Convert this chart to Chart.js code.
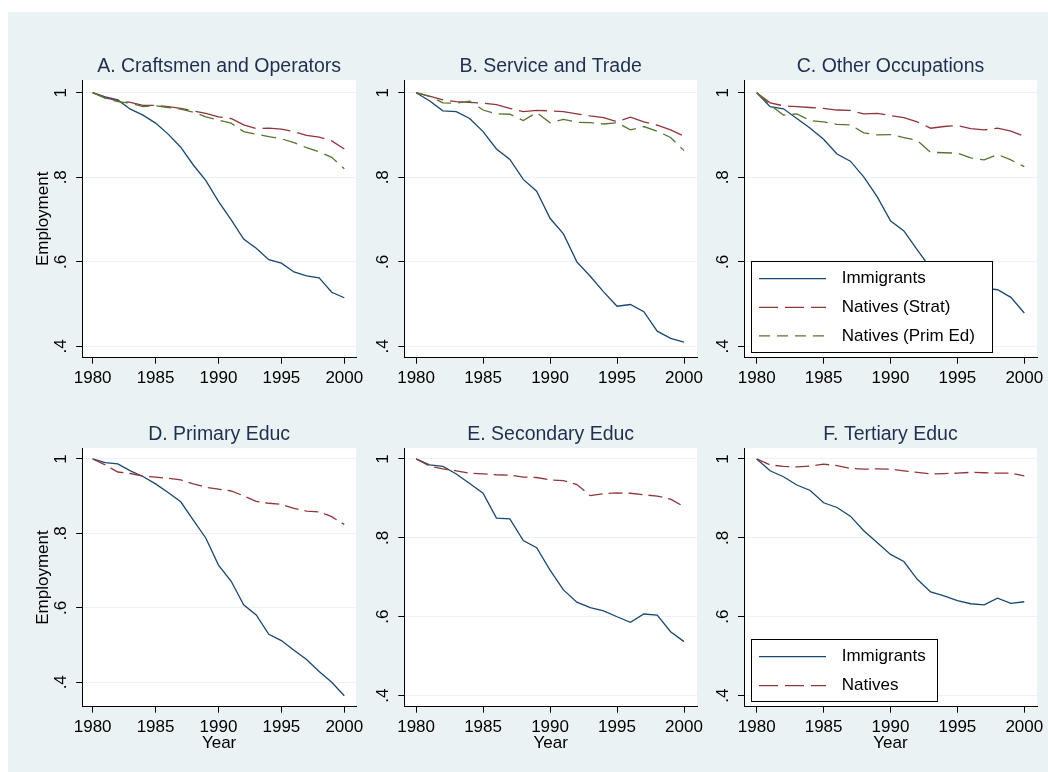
<!DOCTYPE html>
<html>
<head>
<meta charset="utf-8">
<script src="https://cdn.jsdelivr.net/npm/chart.js@4.4.1/dist/chart.umd.min.js"></script>
<style>
html,body{margin:0;padding:0;background:#ffffff;}
body{width:1048px;height:772px;position:relative;overflow:hidden;}
#bg{position:absolute;left:8px;top:12px;width:1040px;height:760px;background:#eaf2f3;}
canvas{position:absolute;}
</style>
</head>
<body>
<div id="bg"></div>
<canvas id="cA" width="362" height="378" style="left:8px;top:12px;width:362px;height:378px"></canvas>
<canvas id="cB" width="340" height="378" style="left:370px;top:12px;width:340px;height:378px"></canvas>
<canvas id="cC" width="338" height="378" style="left:710px;top:12px;width:338px;height:378px"></canvas>
<canvas id="cD" width="362" height="382" style="left:8px;top:390px;width:362px;height:382px"></canvas>
<canvas id="cE" width="340" height="382" style="left:370px;top:390px;width:340px;height:382px"></canvas>
<canvas id="cF" width="338" height="382" style="left:710px;top:390px;width:338px;height:382px"></canvas>
<script>
// ---------- data ----------
const years = [1980,1981,1982,1983,1984,1985,1986,1987,1988,1989,1990,1991,1992,1993,1994,1995,1996,1997,1998,1999,2000];
const xTickValues = [1980,1985,1990,1995,2000];
const yTickValues = [0.4,0.6,0.8,1];

const panelTitles = ['A. Craftsmen and Operators','B. Service and Trade','C. Other Occupations','D. Primary Educ','E. Secondary Educ','F. Tertiary Educ'];
const seriesNamesOcc = ['Immigrants','Natives (Strat)','Natives (Prim Ed)'];
const seriesNamesEdu = ['Immigrants','Natives'];
const yAxisTitle = 'Employment';
const xAxisTitle = 'Year';

// A. Craftsmen and Operators
const craftImmigrants = [1.000,0.990,0.983,0.961,0.947,0.928,0.902,0.871,0.829,0.792,0.743,0.700,0.654,0.632,0.605,0.597,0.576,0.567,0.562,0.528,0.515];
const craftNativesStrat = [1.000,0.988,0.981,0.977,0.970,0.970,0.967,0.963,0.957,0.951,0.943,0.939,0.924,0.915,0.916,0.914,0.908,0.899,0.895,0.886,0.867];
const craftNativesPrim = [1.000,0.987,0.979,0.975,0.967,0.969,0.965,0.961,0.954,0.943,0.935,0.928,0.908,0.902,0.896,0.891,0.882,0.870,0.860,0.847,0.820];
// B. Service and Trade
const servImmigrants = [1.000,0.981,0.957,0.955,0.939,0.908,0.867,0.842,0.795,0.767,0.703,0.666,0.600,0.566,0.529,0.495,0.499,0.482,0.436,0.419,0.410];
const servNativesStrat = [1.000,0.992,0.983,0.979,0.977,0.975,0.972,0.963,0.955,0.958,0.957,0.955,0.950,0.945,0.941,0.931,0.942,0.931,0.923,0.912,0.897];
const servNativesPrim = [1.000,0.991,0.976,0.975,0.980,0.959,0.950,0.949,0.934,0.953,0.929,0.937,0.930,0.929,0.926,0.929,0.912,0.920,0.909,0.894,0.863];
// C. Other Occupations
const otherImmigrants = [1.000,0.967,0.962,0.939,0.916,0.890,0.855,0.838,0.801,0.754,0.697,0.673,0.628,0.585,0.565,0.553,0.547,0.538,0.534,0.516,0.479];
const otherNativesStrat = [1.000,0.976,0.969,0.967,0.965,0.963,0.959,0.958,0.950,0.951,0.946,0.941,0.931,0.916,0.920,0.922,0.915,0.912,0.916,0.909,0.897];
const otherNativesPrim = [1.000,0.971,0.947,0.950,0.934,0.931,0.925,0.924,0.905,0.900,0.901,0.894,0.887,0.859,0.858,0.857,0.846,0.841,0.854,0.841,0.825];
// D. Primary Educ
const primImmigrants = [1.000,0.990,0.987,0.968,0.953,0.933,0.910,0.885,0.836,0.787,0.715,0.672,0.608,0.581,0.529,0.512,0.486,0.461,0.429,0.400,0.364];
const primNatives = [1.000,0.984,0.965,0.961,0.954,0.951,0.948,0.944,0.933,0.924,0.919,0.914,0.901,0.886,0.881,0.878,0.867,0.860,0.858,0.845,0.824];
// E. Secondary Educ
const secImmigrants = [1.000,0.985,0.981,0.962,0.938,0.913,0.850,0.848,0.793,0.775,0.718,0.668,0.637,0.623,0.615,0.600,0.586,0.607,0.604,0.562,0.537];
const secNatives = [1.000,0.982,0.975,0.970,0.964,0.962,0.960,0.959,0.954,0.953,0.947,0.945,0.935,0.907,0.912,0.914,0.913,0.909,0.906,0.898,0.879];
// F. Tertiary Educ
const tertImmigrants = [1.000,0.970,0.955,0.934,0.920,0.889,0.877,0.855,0.818,0.788,0.758,0.740,0.695,0.663,0.653,0.641,0.633,0.630,0.647,0.634,0.638];
const tertNatives = [1.000,0.985,0.981,0.980,0.982,0.987,0.983,0.976,0.974,0.975,0.974,0.970,0.966,0.962,0.963,0.964,0.966,0.965,0.964,0.964,0.957];

// ---------- styles ----------
const FONT = "'Liberation Sans', Arial, Helvetica, sans-serif";
Chart.defaults.font.family = FONT;
Chart.defaults.color = '#000000';
const COL_BLUE = '#1a476f', COL_RED = '#90353b', COL_GREEN = '#55752f';
const STYLE_TOP = [
  {color: COL_BLUE, dash: [], legendDash: []},
  {color: COL_RED, dash: [28, 7], legendDash: [19, 7]},
  {color: COL_GREEN, dash: [15, 7], legendDash: [11, 7]}
];
const STYLE_BOTTOM = [
  {color: COL_BLUE, dash: [], legendDash: []},
  {color: COL_RED, dash: [14, 6], legendDash: [19, 7]}
];

function makeDatasets(names, seriesList, style) {
  return seriesList.map((vals, i) => ({
    label: names[i],
    data: years.map((yr, k) => ({x: yr, y: vals[k]})),
    borderColor: style[i].color,
    backgroundColor: style[i].color,
    borderDash: style[i].dash,
    legendDash: style[i].legendDash,
    borderWidth: 1.3,
    pointRadius: 0,
    tension: 0,
    fill: false,
    order: 10 - i
  }));
}

// white plot region
const plotBg = {
  id: 'plotBg',
  beforeDraw(chart) {
    const {ctx, chartArea: a} = chart;
    ctx.save();
    ctx.fillStyle = '#ffffff';
    ctx.fillRect(a.left, a.top, a.right - a.left, a.bottom - a.top);
    ctx.restore();
  }
};

// boxed legend inside the plot region (drawn over the lines)
const boxLegend = {
  id: 'boxLegend',
  afterDraw(chart, args, opts) {
    if (!opts || !opts.show) return;
    const {ctx, chartArea: a} = chart;
    const ds = chart.data.datasets;
    const n = ds.length;
    const h = opts.padTop + (n - 1) * opts.rowGap + opts.padBottom;
    const x0 = Math.round(a.left + opts.offsetLeft);
    const y1 = Math.round(a.bottom - opts.offsetBottom);
    const y0 = Math.round(y1 - h);
    ctx.save();
    ctx.fillStyle = '#ffffff';
    ctx.fillRect(x0, y0, opts.width, y1 - y0);
    ctx.strokeStyle = '#000000';
    ctx.lineWidth = 1;
    ctx.setLineDash([]);
    ctx.strokeRect(x0 + 0.5, y0 + 0.5, opts.width, y1 - y0);
    ds.forEach((d, i) => {
      const y = y0 + opts.padTop + i * opts.rowGap;
      ctx.save();
      ctx.strokeStyle = d.borderColor;
      ctx.lineWidth = d.borderWidth;
      ctx.setLineDash(d.legendDash || []);
      ctx.beginPath();
      ctx.moveTo(x0 + 8, y);
      ctx.lineTo(x0 + 75, y);
      ctx.stroke();
      ctx.restore();
      ctx.fillStyle = '#000000';
      ctx.font = '17px ' + FONT;
      ctx.textBaseline = 'middle';
      ctx.textAlign = 'left';
      ctx.fillText(d.label, x0 + 90.7, y);
    });
    ctx.restore();
  }
};

const ROWS = [
  {titleTop: 43.3, titleBottom: 1.3, xH: 32.3, style: STYLE_TOP},
  {titleTop: 33.0, titleBottom: 1.9, xH: 65.3, style: STYLE_BOTTOM}
];

const panels = [
  {id: 'cA', row: 0, title: panelTitles[0], yTitle: true, yW: 74.2, padR: 14, xMin: 1979.17, xMax: 2000.93, yMin: 0.3733, yMax: 1.030,
   names: seriesNamesOcc, series: [craftImmigrants, craftNativesStrat, craftNativesPrim], legend: null},
  {id: 'cB', row: 0, title: panelTitles[1], yTitle: false, yW: 34.3, padR: 13, xMin: 1979.12, xMax: 2000.97, yMin: 0.3733, yMax: 1.030,
   names: seriesNamesOcc, series: [servImmigrants, servNativesStrat, servNativesPrim], legend: null},
  {id: 'cC', row: 0, title: panelTitles[2], yTitle: false, yW: 34.0, padR: 11, xMin: 1979.05, xMax: 2000.95, yMin: 0.3733, yMax: 1.030,
   names: seriesNamesOcc, series: [otherImmigrants, otherNativesStrat, otherNativesPrim],
   legend: {show: true, offsetLeft: 7, offsetBottom: 6, width: 241, padTop: 17.7, rowGap: 28.6, padBottom: 15.7}},
  {id: 'cD', row: 1, title: panelTitles[3], yTitle: true, yW: 74.2, padR: 14, xMin: 1979.17, xMax: 2000.93, yMin: 0.3344, yMax: 1.0287,
   names: seriesNamesEdu, series: [primImmigrants, primNatives], legend: null},
  {id: 'cE', row: 1, title: panelTitles[4], yTitle: false, yW: 34.3, padR: 13, xMin: 1979.12, xMax: 2000.97, yMin: 0.372, yMax: 1.027,
   names: seriesNamesEdu, series: [secImmigrants, secNatives], legend: null},
  {id: 'cF', row: 1, title: panelTitles[5], yTitle: false, yW: 34.0, padR: 11, xMin: 1979.05, xMax: 2000.95, yMin: 0.372, yMax: 1.027,
   names: seriesNamesEdu, series: [tertImmigrants, tertNatives],
   legend: {show: true, offsetLeft: 7, offsetBottom: 6, width: 186, padTop: 17.7, rowGap: 29, padBottom: 15.7}}
];

function yLabel(v) {
  if (Math.abs(v - 1) < 1e-9) return '1';
  return String(Math.round(v * 10) / 10).replace(/^0\./, '.');
}

panels.forEach(p => {
  const row = ROWS[p.row];
  new Chart(document.getElementById(p.id), {
    type: 'line',
    data: {datasets: makeDatasets(p.names, p.series, row.style)},
    plugins: [plotBg, boxLegend],
    options: {
      responsive: false,
      animation: false,
      events: [],
      layout: {padding: {left: 0, right: p.padR, top: 0, bottom: 0}},
      plugins: {
        legend: {display: false},
        tooltip: {enabled: false},
        title: {
          display: true,
          text: p.title,
          fullSize: false,
          color: '#1f2f50',
          font: {size: 19.5, weight: 'normal', family: FONT},
          padding: {top: row.titleTop, bottom: row.titleBottom}
        },
        boxLegend: p.legend || {show: false}
      },
      scales: {
        x: {
          type: 'linear',
          min: p.xMin,
          max: p.xMax,
          afterBuildTicks: s => { s.ticks = xTickValues.map(v => ({value: v})); },
          afterFit: s => { s.height = row.xH; s.paddingLeft = 0; s.paddingRight = 0; },
          ticks: {
            callback: v => String(v),
            font: {size: 17},
            color: '#000000',
            padding: 4.5,
            maxRotation: 0,
            minRotation: 0,
            autoSkip: false
          },
          grid: {drawOnChartArea: false, tickLength: 6, tickColor: '#000000', tickWidth: 1},
          border: {display: true, color: '#000000', width: 1},
          title: {
            display: p.row === 1,
            text: xAxisTitle,
            font: {size: 17},
            color: '#000000',
            padding: {top: 0, bottom: 18.3}
          }
        },
        y: {
          type: 'linear',
          min: p.yMin,
          max: p.yMax,
          afterBuildTicks: s => { s.ticks = yTickValues.map(v => ({value: v})); },
          afterFit: s => { s.width = p.yW; s.paddingTop = 0; s.paddingBottom = 0; },
          ticks: {
            callback: v => yLabel(v),
            font: {size: 17},
            color: '#000000',
            padding: 8,
            minRotation: 90,
            maxRotation: 90,
            crossAlign: 'center',
            autoSkip: false
          },
          grid: {color: '#eaf2f3', lineWidth: 1, tickLength: 6, tickColor: '#000000', tickWidth: 1},
          border: {display: true, color: '#000000', width: 1},
          title: {
            display: p.yTitle,
            text: yAxisTitle,
            font: {size: 17},
            color: '#000000',
            padding: {top: 25.5, bottom: 0}
          }
        }
      }
    }
  });
});
</script>
</body>
</html>
